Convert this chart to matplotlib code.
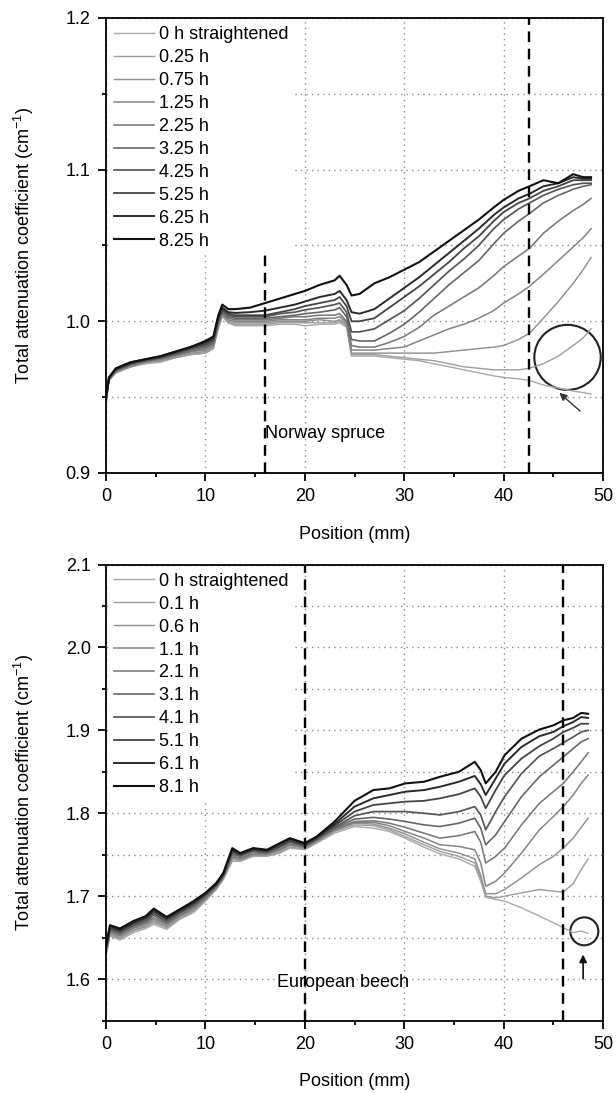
import matplotlib
matplotlib.use("Agg")
import matplotlib.pyplot as plt
from matplotlib.patches import Ellipse
from matplotlib.ticker import MultipleLocator

plt.rcParams['font.family'] = ['Liberation Sans', 'DejaVu Sans']
plt.rcParams['mathtext.fontset'] = 'custom'
plt.rcParams['mathtext.rm'] = 'Liberation Sans'
plt.rcParams['mathtext.default'] = 'regular'

# ---- Norway spruce (top panel) ----
X_TOP = [0, 0.3, 1, 2.5, 4, 5.5, 7, 8.5, 10, 10.8, 11.3, 11.7, 12.3, 13, 14.5, 16, 17.5, 19, 20, 21.5,
         23, 23.5, 24.2, 24.7, 25.5, 27, 28.5, 30, 31.5, 33, 34.5, 36, 37.5, 39, 40, 41.5, 42.6, 44,
         45.5, 47, 48, 48.8]

spruce_labels = ["0 h straightened", "0.25 h", "0.75 h", "1.25 h", "2.25 h",
                 "3.25 h", "4.25 h", "5.25 h", "6.25 h", "8.25 h"]

spruce_0h = [0.945, 0.961, 0.966, 0.970, 0.972, 0.973, 0.976, 0.978, 0.979, 0.982, 0.995, 1.003, 0.999, 0.997,
             0.997, 0.997, 0.998, 0.998, 0.997, 0.998, 0.998, 0.999, 0.996, 0.977, 0.977,
             0.977, 0.976, 0.975, 0.974, 0.972, 0.970, 0.968, 0.966, 0.964, 0.963, 0.962, 0.961, 0.958, 0.956,
             0.954, 0.953, 0.952]
spruce_025 = [0.946, 0.961, 0.966, 0.970, 0.973, 0.974, 0.976, 0.978, 0.979, 0.982, 0.996, 1.004, 0.999, 0.998,
              0.998, 0.998, 0.999, 0.999, 0.999, 0.999, 0.999, 1.000, 0.997, 0.978, 0.978,
              0.978, 0.977, 0.976, 0.975, 0.974, 0.972, 0.970, 0.969, 0.968, 0.968, 0.968, 0.969, 0.972, 0.977,
              0.984, 0.989, 0.995]
spruce_075 = [0.947, 0.961, 0.967, 0.970, 0.973, 0.974, 0.977, 0.979, 0.980, 0.983, 0.997, 1.004, 1.000, 0.999,
              0.999, 0.999, 1.000, 1.000, 1.000, 1.001, 1.000, 1.001, 0.998, 0.979, 0.979,
              0.979, 0.979, 0.979, 0.979, 0.979, 0.980, 0.981, 0.982, 0.983, 0.984, 0.988, 0.992, 1.002, 1.013,
              1.025, 1.034, 1.042]
spruce_125 = [0.947, 0.962, 0.967, 0.971, 0.973, 0.975, 0.977, 0.980, 0.981, 0.984, 0.998, 1.005, 1.001, 1.000,
              1.000, 1.000, 1.001, 1.001, 1.001, 1.002, 1.002, 1.003, 0.999, 0.981, 0.981,
              0.981, 0.982, 0.983, 0.987, 0.991, 0.995, 0.998, 1.002, 1.007, 1.012, 1.018, 1.023, 1.031, 1.040,
              1.049, 1.055, 1.061]
spruce_225 = [0.948, 0.962, 0.967, 0.971, 0.974, 0.975, 0.978, 0.980, 0.982, 0.985, 0.999, 1.005, 1.002, 1.001,
              1.001, 1.001, 1.002, 1.003, 1.003, 1.004, 1.004, 1.005, 1.000, 0.984, 0.983,
              0.983, 0.986, 0.990, 0.996, 1.004, 1.010, 1.016, 1.022, 1.030, 1.036, 1.043, 1.048, 1.058, 1.066,
              1.073, 1.077, 1.081]
spruce_325 = [0.948, 0.962, 0.968, 0.972, 0.974, 0.976, 0.978, 0.981, 0.983, 0.986, 1.000, 1.006, 1.003, 1.002,
              1.002, 1.002, 1.003, 1.004, 1.005, 1.006, 1.0075, 1.009, 1.003, 0.988, 0.987,
              0.987, 0.992, 0.998, 1.006, 1.015, 1.024, 1.032, 1.040, 1.051, 1.058, 1.066, 1.071, 1.078, 1.083,
              1.087, 1.089, 1.090]
spruce_425 = [0.949, 0.962, 0.968, 0.972, 0.974, 0.976, 0.979, 0.982, 0.984, 0.987, 1.001, 1.007, 1.004, 1.003,
              1.003, 1.003, 1.005, 1.006, 1.0075, 1.009, 1.011, 1.012, 1.006, 0.993, 0.993,
              0.995, 1.001, 1.007, 1.015, 1.024, 1.033, 1.041, 1.050, 1.061, 1.067, 1.074, 1.078, 1.083, 1.087,
              1.090, 1.091, 1.091]
spruce_525 = [0.949, 0.963, 0.968, 0.972, 0.975, 0.976, 0.979, 0.982, 0.985, 0.988, 1.002, 1.008, 1.005, 1.004,
              1.004, 1.004, 1.006, 1.008, 1.010, 1.012, 1.014, 1.016, 1.010, 1.000, 1.000,
              1.002, 1.009, 1.016, 1.023, 1.031, 1.039, 1.048, 1.056, 1.066, 1.072, 1.078, 1.081, 1.086, 1.089,
              1.093, 1.093, 1.093]
spruce_625 = [0.950, 0.963, 0.969, 0.973, 0.975, 0.977, 0.980, 0.983, 0.986, 0.989, 1.003, 1.009, 1.006, 1.0055,
              1.006, 1.007, 1.009, 1.011, 1.013, 1.016, 1.018, 1.020, 1.014, 1.006, 1.005,
              1.008, 1.015, 1.022, 1.029, 1.037, 1.045, 1.053, 1.061, 1.070, 1.075, 1.081, 1.084, 1.089, 1.091,
              1.095, 1.094, 1.094]
spruce_825 = [0.950, 0.963, 0.969, 0.973, 0.975, 0.977, 0.980, 0.983, 0.987, 0.990, 1.004, 1.011, 1.008, 1.008,
              1.009, 1.012, 1.015, 1.018, 1.020, 1.024, 1.027, 1.030, 1.024, 1.017, 1.018,
              1.025, 1.029, 1.034, 1.039, 1.046, 1.053, 1.060, 1.067, 1.075, 1.080, 1.086, 1.089, 1.093, 1.091,
              1.097, 1.095, 1.095]

spruce_series = [spruce_0h, spruce_025, spruce_075, spruce_125, spruce_225,
                 spruce_325, spruce_425, spruce_525, spruce_625, spruce_825]

# ---- European beech (bottom panel) ----
X_BOTTOM = [0, 0.4, 1.4, 2.75, 4, 4.8, 6.1, 7.4, 8.8, 10, 11.1, 11.8, 12.7, 13.5, 14.8, 16.2, 17.5, 18.5, 20,
            21.2, 23, 25, 26.9, 28.5, 30.1, 32, 33.6, 35.5, 37.1, 37.7, 38.2, 39.2, 40.1, 41.8, 43.6, 45, 46,
            47, 47.8, 48.5]

beech_labels = ["0 h straightened", "0.1 h", "0.6 h", "1.1 h", "2.1 h",
                "3.1 h", "4.1 h", "5.1 h", "6.1 h", "8.1 h"]

beech_0h = [1.628, 1.652, 1.647, 1.656, 1.661, 1.666, 1.660, 1.672, 1.680, 1.694, 1.708, 1.720, 1.742, 1.742,
            1.748, 1.748, 1.752, 1.758, 1.756, 1.764,
            1.776, 1.784, 1.782, 1.778, 1.770, 1.759, 1.751, 1.745, 1.736, 1.718, 1.699, 1.696, 1.694, 1.686,
            1.676, 1.668, 1.662, 1.656, 1.658, 1.655]
beech_01 = [1.629, 1.653, 1.649, 1.658, 1.663, 1.668, 1.662, 1.673, 1.682, 1.695, 1.709, 1.721, 1.744, 1.743,
            1.749, 1.749, 1.753, 1.759, 1.757, 1.765,
            1.778, 1.786, 1.785, 1.780, 1.772, 1.762, 1.754, 1.748, 1.740, 1.722, 1.700, 1.698, 1.700, 1.704,
            1.708, 1.706, 1.705, 1.715, 1.732, 1.745]
beech_06 = [1.631, 1.655, 1.650, 1.659, 1.664, 1.670, 1.663, 1.675, 1.683, 1.696, 1.710, 1.722, 1.746, 1.744,
            1.750, 1.750, 1.755, 1.761, 1.758, 1.766,
            1.779, 1.788, 1.787, 1.782, 1.775, 1.765, 1.757, 1.752, 1.745, 1.725, 1.703, 1.703, 1.708, 1.722,
            1.738, 1.748, 1.758, 1.770, 1.783, 1.794]
beech_11 = [1.632, 1.656, 1.652, 1.661, 1.666, 1.672, 1.665, 1.676, 1.685, 1.697, 1.711, 1.723, 1.747, 1.745,
            1.751, 1.751, 1.756, 1.762, 1.759, 1.767,
            1.780, 1.789, 1.789, 1.785, 1.778, 1.770, 1.762, 1.760, 1.756, 1.740, 1.712, 1.718, 1.728, 1.752,
            1.780, 1.796, 1.808, 1.822, 1.836, 1.846]
beech_21 = [1.633, 1.658, 1.653, 1.662, 1.668, 1.674, 1.667, 1.677, 1.686, 1.698, 1.712, 1.724, 1.749, 1.746,
            1.752, 1.752, 1.757, 1.763, 1.760, 1.768,
            1.781, 1.790, 1.791, 1.788, 1.783, 1.776, 1.770, 1.773, 1.778, 1.765, 1.740, 1.748, 1.758, 1.786,
            1.812, 1.826, 1.836, 1.850, 1.862, 1.873]
beech_31 = [1.635, 1.659, 1.655, 1.664, 1.669, 1.677, 1.668, 1.679, 1.688, 1.700, 1.712, 1.724, 1.751, 1.748,
            1.754, 1.752, 1.759, 1.765, 1.760, 1.768,
            1.782, 1.793, 1.795, 1.793, 1.790, 1.786, 1.784, 1.788, 1.794, 1.782, 1.762, 1.774, 1.790, 1.820,
            1.844, 1.858, 1.868, 1.878, 1.886, 1.890]
beech_41 = [1.636, 1.661, 1.656, 1.665, 1.671, 1.679, 1.670, 1.680, 1.689, 1.701, 1.713, 1.725, 1.753, 1.749,
            1.755, 1.753, 1.760, 1.766, 1.761, 1.769,
            1.783, 1.797, 1.802, 1.802, 1.802, 1.800, 1.798, 1.802, 1.808, 1.798, 1.780, 1.802, 1.820, 1.848,
            1.869, 1.878, 1.885, 1.892, 1.898, 1.900]
beech_51 = [1.637, 1.662, 1.658, 1.667, 1.673, 1.681, 1.672, 1.681, 1.691, 1.702, 1.714, 1.726, 1.754, 1.750,
            1.756, 1.754, 1.761, 1.767, 1.762, 1.770,
            1.785, 1.802, 1.810, 1.812, 1.814, 1.815, 1.818, 1.823, 1.830, 1.820, 1.806, 1.828, 1.846, 1.866,
            1.881, 1.890, 1.898, 1.903, 1.908, 1.908]
beech_61 = [1.639, 1.664, 1.659, 1.668, 1.674, 1.683, 1.673, 1.683, 1.692, 1.703, 1.715, 1.727, 1.756, 1.751,
            1.757, 1.755, 1.763, 1.769, 1.763, 1.771,
            1.787, 1.808, 1.818, 1.822, 1.826, 1.828, 1.832, 1.838, 1.845, 1.835, 1.822, 1.842, 1.860, 1.880,
            1.893, 1.898, 1.905, 1.910, 1.916, 1.915]
beech_81 = [1.640, 1.665, 1.661, 1.670, 1.676, 1.685, 1.675, 1.684, 1.694, 1.704, 1.716, 1.728, 1.758, 1.752,
            1.758, 1.756, 1.764, 1.770, 1.764, 1.772,
            1.790, 1.815, 1.828, 1.830, 1.836, 1.838, 1.844, 1.850, 1.862, 1.852, 1.836, 1.850, 1.870, 1.890,
            1.901, 1.906, 1.912, 1.915, 1.921, 1.920]

beech_series = [beech_0h, beech_01, beech_06, beech_11, beech_21,
                beech_31, beech_41, beech_51, beech_61, beech_81]

greys = ['#a8a8a8', '#9c9c9c', '#909090', '#848484', '#787878',
         '#666666', '#555555', '#444444', '#2a2a2a', '#111111']
widths = [1.0, 1.0, 1.05, 1.1, 1.15, 1.2, 1.25, 1.3, 1.4, 1.5]


def draw_panel(ax, x, series, labels, ylim, yticks):
    for vals, lab, c, w in zip(series, labels, greys, widths):
        ax.plot(x, vals, color=c, lw=w, label=lab)

    ax.set_xlim(0, 50)
    ax.set_ylim(*ylim)
    ax.set_yticks(yticks)
    ax.set_yticklabels([f"{t:.1f}" for t in yticks])
    ax.xaxis.set_major_locator(MultipleLocator(10))
    ax.xaxis.set_minor_locator(MultipleLocator(5))
    ax.yaxis.set_minor_locator(MultipleLocator(0.05))
    ax.set_axisbelow(True)
    ax.grid(axis='x', which='major', ls=(0, (1, 3)), color='#8a8a8a', lw=1)
    ax.grid(axis='y', which='both', ls=(0, (1, 3)), color='#8a8a8a', lw=1)
    ax.tick_params(which='major', direction='out', length=6, width=1.3, pad=5, labelsize=13)
    ax.tick_params(which='minor', direction='out', length=3, width=1.3)
    for s in ax.spines.values():
        s.set_linewidth(1.3)

    ax.set_xlabel("Position (mm)", fontsize=13)
    ax.set_ylabel("Total attenuation coefficient (cm$^{-1}$)", fontsize=13)
    ax.xaxis.set_label_coords(0.5, -0.116)
    ax.yaxis.set_label_coords(-0.14, 0.5)

    ax.legend(loc='upper left', frameon=True, fancybox=False, edgecolor='none',
              facecolor='white', framealpha=1, borderaxespad=0.25, borderpad=0.2,
              handlelength=2.2, handletextpad=0.3, labelspacing=0.33, fontsize=13)


fig = plt.figure(figsize=(6.16, 10.93), dpi=100)
ax1 = fig.add_axes([0.1721, 0.5673, 0.8068, 0.4163])
ax2 = fig.add_axes([0.1721, 0.0663, 0.8068, 0.4172])

dash = (0, (4.5, 2.8))

# top panel
draw_panel(ax1, X_TOP, spruce_series, spruce_labels, (0.9, 1.2), [0.9, 1.0, 1.1, 1.2])
ax1.vlines(16, 0.9, 1.05, colors='k', linestyles=dash, lw=1.7)
ax1.axvline(42.6, color='k', ls=dash, lw=1.7)
ax1.text(16.0, 0.926, "Norway spruce", fontsize=13, ha='left', va='center')
ax1.add_patch(Ellipse((46.43, 0.9762), 6.68, 0.0429, fill=False, ec='#222222', lw=1.5))
ax1.annotate('', xy=(45.4, 0.954), xytext=(47.9, 0.9396),
             arrowprops=dict(arrowstyle='-|>', color='#333333', lw=1.0, mutation_scale=11))

# bottom panel
draw_panel(ax2, X_BOTTOM, beech_series, beech_labels, (1.55, 2.1), [1.6, 1.7, 1.8, 1.9, 2.0, 2.1])
ax2.axvline(20, color='k', ls=dash, lw=1.7)
ax2.axvline(46, color='k', ls=dash, lw=1.7)
ax2.text(17.2, 1.596, "European beech", fontsize=13, ha='left', va='center')
ax2.add_patch(Ellipse((48.12, 1.6576), 2.82, 0.0337, fill=False, ec='#222222', lw=1.5))
ax2.annotate('', xy=(48.0, 1.633), xytext=(48.0, 1.597),
             arrowprops=dict(arrowstyle='-|>', color='#111111', lw=1.2, mutation_scale=11))

fig.savefig("out.png", dpi=100)
